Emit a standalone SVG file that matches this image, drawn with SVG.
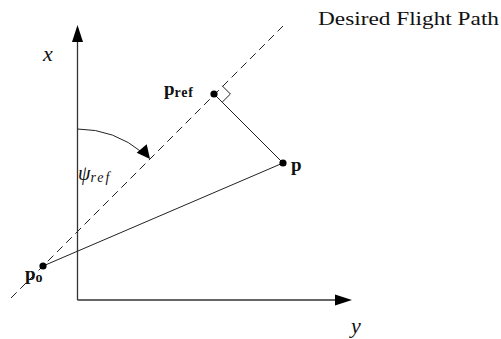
<svg xmlns="http://www.w3.org/2000/svg" width="501" height="339" viewBox="0 0 501 339">
<defs>
<style>
.ax{stroke:#333;stroke-width:1.3;fill:none}
.ln{stroke:#222;stroke-width:1;fill:none}
.dash{stroke:#222;stroke-width:1;fill:none;stroke-dasharray:8 5}
.t{font-family:"Liberation Serif","DejaVu Serif",serif;fill:#111}
.it{font-style:italic}
.b{font-weight:bold}
.dot{fill:#000}
.head{fill:#000}
</style>
</defs>
<rect width="501" height="339" fill="#fff"/>
<g id="connectors">
<line class="dash" x1="11" y1="298" x2="283" y2="26"/>
<line class="ax" x1="77.5" y1="300" x2="77.5" y2="40"/>
<polygon class="head" points="77.5,25 72,42 83,42"/>
<line class="ax" x1="77.5" y1="300" x2="338" y2="300"/>
<polygon class="head" points="352,300 335,294.5 335,305.5"/>
<line class="ln" x1="43" y1="266" x2="283" y2="163"/>
<line class="ln" x1="214" y1="94" x2="283" y2="163"/>
<path class="ln" d="M222.2 85.8 L230.4 94 L222.2 102.2"/>
<path class="ln" d="M77.5 129 A102.5 102.5 0 0 1 143 153"/>
<polygon class="head" points="150,159 136.7,152.7 146.7,144.3"/>
</g>
<g id="node-po">
<circle class="dot" cx="43" cy="266" r="3.6"/>
<text class="t b" x="25" y="280" font-size="19">p<tspan font-size="14" dy="2">o</tspan></text>
</g>
<g id="node-pref">
<circle class="dot" cx="214" cy="94" r="3.6"/>
<text class="t b" x="164" y="95" font-size="19">p<tspan font-size="14" dy="1.5" letter-spacing="0.8">ref</tspan></text>
</g>
<g id="node-p">
<circle class="dot" cx="283" cy="163" r="3.6"/>
<text class="t b" x="291" y="171" font-size="19">p</text>
</g>
<g id="labels">
<text class="t" x="318" y="25" font-size="18" textLength="181" lengthAdjust="spacingAndGlyphs">Desired Flight Path</text>
<text class="t it" x="43" y="61" font-size="22">x</text>
<text class="t it" x="351" y="333" font-size="22">y</text>
<text class="t it" x="78" y="180" font-size="20">ψ<tspan font-size="14" dy="2" letter-spacing="2">ref</tspan></text>
</g>
</svg>
